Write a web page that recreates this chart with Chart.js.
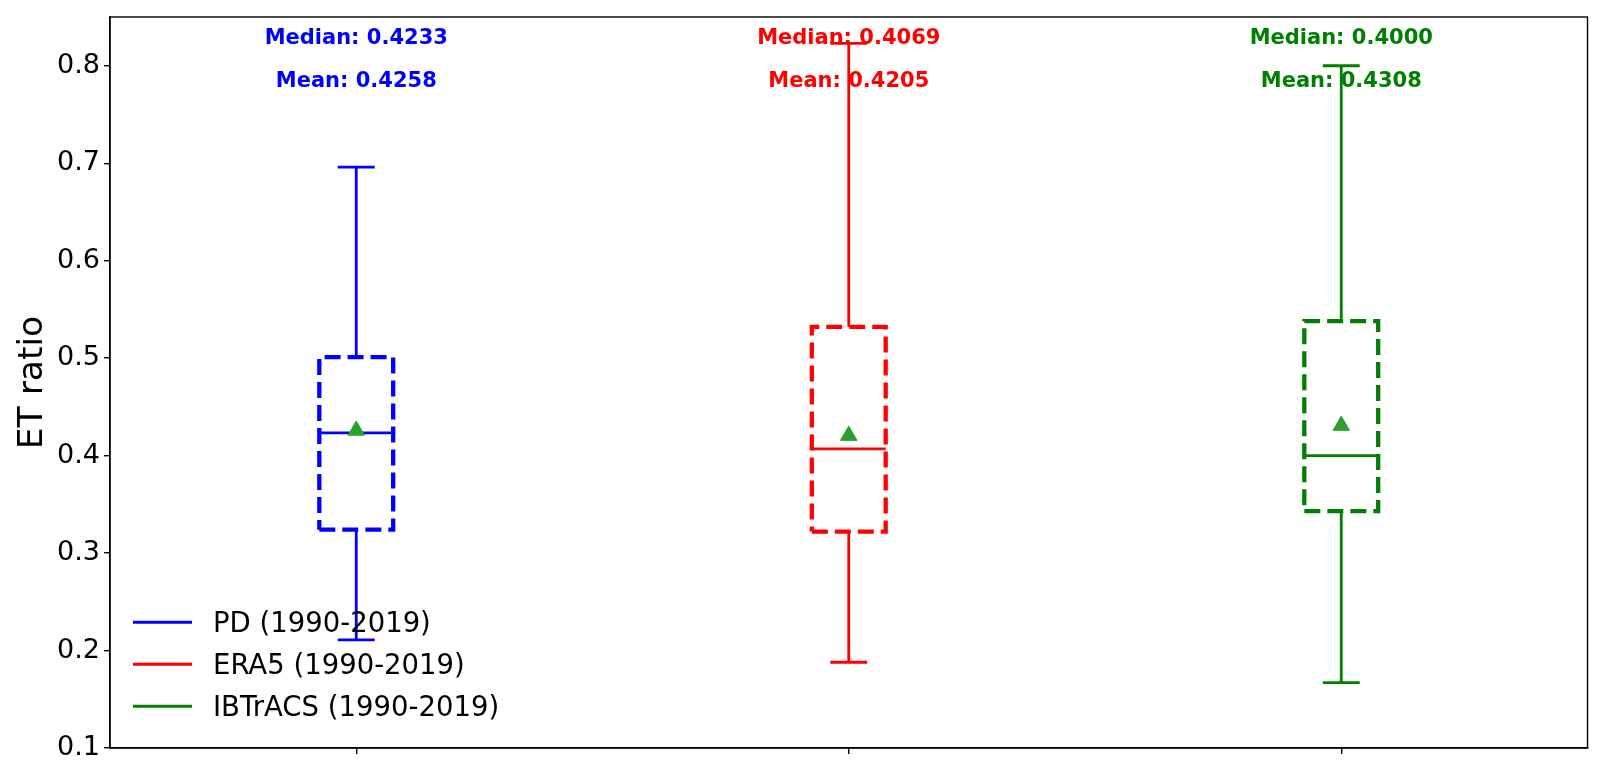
<!DOCTYPE html>
<html>
<head>
<meta charset="utf-8">
<script src="https://cdn.jsdelivr.net/npm/chart.js@4.4.1/dist/chart.umd.min.js"></script>
<style>
  html, body { margin: 0; padding: 0; background: #fff; }
  #wrap { width: 1606px; height: 774px; }
</style>
</head>
<body>
<div id="wrap"><canvas id="chart1"></canvas></div>
<script>
// box plot data
const categories = ['PD (1990-2019)', 'ERA5 (1990-2019)', 'IBTrACS (1990-2019)'];
const positions = [1, 2, 3];
const whiskerLow = [0.211, 0.188, 0.167];
const q1 = [0.324, 0.322, 0.343];
const medians = [0.4233, 0.4069, 0.4000];
const q3 = [0.501, 0.532, 0.538];
const whiskerHigh = [0.696, 0.823, 0.800];
const means = [0.4258, 0.4205, 0.4308];
const yTicks = [0.1, 0.2, 0.3, 0.4, 0.5, 0.6, 0.7, 0.8];

const colors = ['#0000ff', '#ff0000', '#008000'];
const meanColor = '#2ca02c';
const boxHalf = 0.075;   // box width 0.15
const capHalf = 0.0375;  // caps half the box width
const FONT = '"DejaVu Sans", sans-serif';

const datasets = [];

// mean markers on top
datasets.push({
  label: 'mean',
  data: positions.map((p, i) => ({ x: p, y: means[i] })),
  showLine: false,
  pointStyle: 'triangle',
  pointRadius: 9.5,
  pointBackgroundColor: meanColor,
  pointBorderColor: meanColor,
  pointBorderWidth: 1,
  order: 0
});

positions.forEach((p, i) => {
  // dashed box
  datasets.push({
    label: categories[i],
    data: [
      { x: p - boxHalf, y: q1[i] }, { x: p + boxHalf, y: q1[i] },
      { x: p + boxHalf, y: q3[i] }, { x: p - boxHalf, y: q3[i] },
      { x: p - boxHalf, y: q1[i] }
    ],
    borderColor: colors[i],
    borderWidth: 4.3,
    borderDash: [16, 7],
    pointRadius: 0,
    fill: false,
    order: 2
  });
  // whiskers, caps, median
  const gap = { x: p, y: null };
  datasets.push({
    label: categories[i] + ' whiskers',
    data: [
      { x: p, y: q1[i] }, { x: p, y: whiskerLow[i] }, gap,
      { x: p - capHalf, y: whiskerLow[i] }, { x: p + capHalf, y: whiskerLow[i] }, gap,
      { x: p, y: q3[i] }, { x: p, y: whiskerHigh[i] }, gap,
      { x: p - capHalf, y: whiskerHigh[i] }, { x: p + capHalf, y: whiskerHigh[i] }, gap,
      { x: p - boxHalf, y: medians[i] }, { x: p + boxHalf, y: medians[i] }
    ],
    borderColor: colors[i],
    borderWidth: 2.8,
    pointRadius: 0,
    spanGaps: false,
    fill: false,
    order: 1
  });
});

// frame, stat labels and legend
const annotatePlugin = {
  id: 'annotate',
  afterDraw(chart) {
    const { ctx, chartArea, scales: { x } } = chart;
    ctx.save();
    ctx.strokeStyle = '#000';
    ctx.lineWidth = 1.4;
    ctx.strokeRect(chartArea.left, chartArea.top, chartArea.right - chartArea.left, chartArea.bottom - chartArea.top);

    ctx.font = 'bold 21px ' + FONT;
    ctx.textAlign = 'center';
    ctx.textBaseline = 'alphabetic';
    positions.forEach((p, i) => {
      const px = x.getPixelForValue(p);
      ctx.fillStyle = colors[i];
      ctx.fillText('Median: ' + medians[i].toFixed(4), px, chartArea.top + 27);
      ctx.fillText('Mean: ' + means[i].toFixed(4), px, chartArea.top + 70.3);
    });

    ctx.font = '27.5px ' + FONT;
    ctx.textAlign = 'left';
    ctx.textBaseline = 'alphabetic';
    categories.forEach((c, i) => {
      const ly = 622.3 + i * 42;
      ctx.strokeStyle = colors[i];
      ctx.lineWidth = 3;
      ctx.beginPath();
      ctx.moveTo(chartArea.left + 23, ly);
      ctx.lineTo(chartArea.left + 82, ly);
      ctx.stroke();
      ctx.fillStyle = '#000';
      ctx.fillText(c, chartArea.left + 103, ly + 10);
    });
    ctx.restore();
  }
};

new Chart(document.getElementById('chart1'), {
  type: 'line',
  data: { datasets },
  options: {
    responsive: true,
    maintainAspectRatio: false,
    animation: false,
    layout: { padding: { left: 0, top: 17, right: 18.5, bottom: 0 } },
    plugins: { legend: { display: false }, tooltip: { enabled: false } },
    scales: {
      x: {
        type: 'linear',
        min: 0.5,
        max: 3.5,
        afterBuildTicks: s => { s.ticks = positions.map(v => ({ value: v })); },
        afterFit: s => { s.height = 26; s.paddingLeft = 0; s.paddingRight = 0; },
        ticks: { callback: () => '', padding: 0 },
        grid: { drawOnChartArea: false, drawTicks: true, tickLength: 6, color: '#000', lineWidth: 1.4 },
        border: { display: true, color: '#000', width: 1.4 }
      },
      y: {
        min: 0.1,
        max: 0.85,
        afterBuildTicks: s => { s.ticks = yTicks.map(v => ({ value: v })); },
        afterFit: s => { s.width = 110; s.paddingTop = 0; s.paddingBottom = 0; },
        ticks: { callback: v => v.toFixed(1), color: '#000', font: { family: FONT, size: 27 }, padding: 4 },
        grid: { drawOnChartArea: false, drawTicks: true, tickLength: 6, color: '#000', lineWidth: 1.4 },
        border: { display: true, color: '#000', width: 1.4 },
        title: { display: true, text: 'ET ratio', color: '#000', font: { family: FONT, size: 34.5 }, padding: { top: 12.6, bottom: 0 } }
      }
    }
  },
  plugins: [annotatePlugin]
});
</script>
</body>
</html>
